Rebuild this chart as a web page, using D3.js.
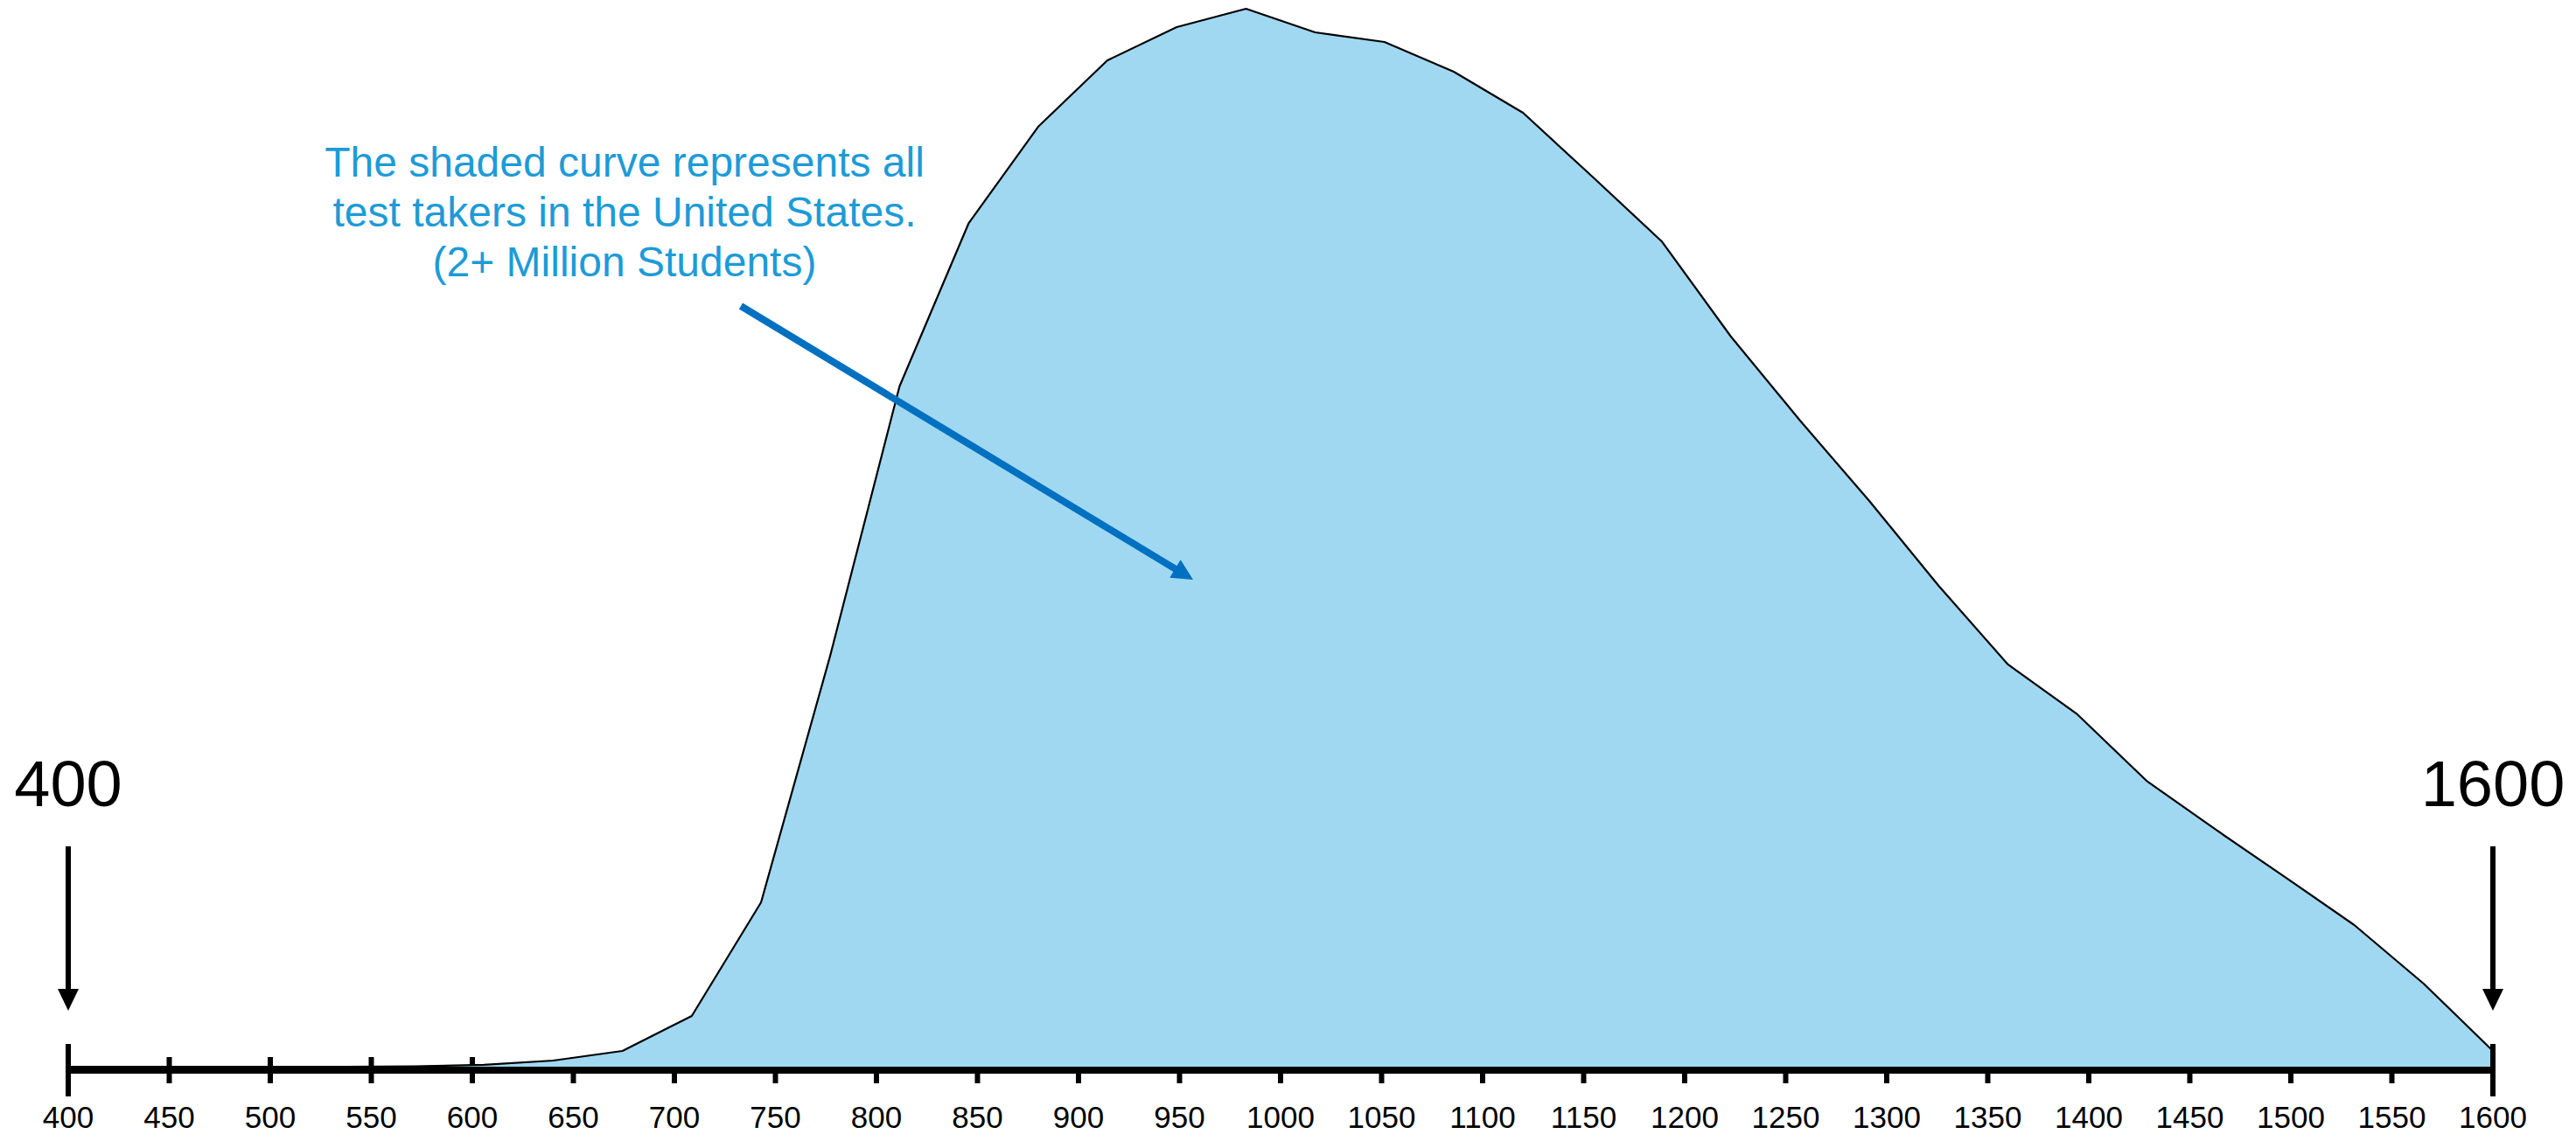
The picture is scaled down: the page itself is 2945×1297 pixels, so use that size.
<!DOCTYPE html>
<html>
<head>
<meta charset="utf-8">
<script src="https://cdn.jsdelivr.net/npm/d3@7"></script>
<style>
  html, body { margin: 0; padding: 0; background: #fff; }
  svg { display: block; }
  text { font-family: "Liberation Sans", Arial, Helvetica, sans-serif; }
</style>
</head>
<body>
<svg id="chart" width="2945" height="1297"></svg>
<script>
// ---- data ----
const scores = [400, 434.3, 468.6, 502.9, 537.1, 571.4, 605.7, 640, 674.3, 708.6,
  742.9, 777.1, 811.4, 845.7, 880, 914.3, 948.6, 982.9, 1017.1, 1051.4,
  1085.7, 1120, 1154.3, 1188.6, 1222.9, 1257.1, 1291.4, 1325.7, 1360, 1394.3,
  1428.6, 1462.9, 1497.1, 1531.4, 1565.7, 1600];
// relative number of test takers (peak = 100)
const takers = [0, 0, 0, 0, 0, 0.04, 0.17, 0.58, 1.49, 4.79,
  15.54, 38.84, 64.30, 79.75, 88.84, 95.12, 98.26, 100, 97.77, 96.86,
  94.05, 90.17, 84.13, 78.02, 69.01, 61.07, 53.47, 45.45, 38.02, 33.31,
  27.02, 22.40, 17.93, 13.39, 7.85, 1.49];
const tickValues = [400, 450, 500, 550, 600, 650, 700, 750, 800, 850, 900, 950, 1000,
  1050, 1100, 1150, 1200, 1250, 1300, 1350, 1400, 1450, 1500, 1550, 1600];
const endLabels = ["400", "1600"];
const endValues = [400, 1600];
const noteLines = ["The shaded curve represents all", "test takers in the United States.", "(2+ Million Students)"];

// ---- layout ----
const svg = d3.select("#chart");
const axisY = 1224;
const baseY = 1220;
const x = d3.scaleLinear().domain([400, 1600]).range([78, 2850]);
const y = d3.scaleLinear().domain([0, 100]).range([baseY, 10]);

// tick marks (drawn under the area)
svg.append("g").selectAll("line").data(tickValues).join("line")
  .attr("x1", d => x(d)).attr("x2", d => x(d))
  .attr("y1", d => (d === 400 || d === 1600) ? 1194 : 1209)
  .attr("y2", d => (d === 400 || d === 1600) ? 1254 : 1239)
  .attr("stroke", "#000").attr("stroke-width", 6);

const pts = scores.map((s, i) => ({ s, v: takers[i] }));

// shaded area
svg.append("path").datum(pts)
  .attr("d", d3.area().x(d => x(d.s)).y0(baseY).y1(d => y(d.v)))
  .attr("fill", "#a0d8f1");

// outline
svg.append("path").datum(pts)
  .attr("d", d3.line().x(d => x(d.s)).y(d => y(d.v)))
  .attr("fill", "none").attr("stroke", "#000").attr("stroke-width", 2.2)
  .attr("stroke-linejoin", "round");

// axis line
svg.append("line")
  .attr("x1", x(400) - 3).attr("x2", x(1600) + 3)
  .attr("y1", axisY).attr("y2", axisY)
  .attr("stroke", "#000").attr("stroke-width", 8);

// redraw end ticks on top
svg.append("g").selectAll("line").data(endValues).join("line")
  .attr("x1", d => x(d)).attr("x2", d => x(d))
  .attr("y1", 1194).attr("y2", 1254)
  .attr("stroke", "#000").attr("stroke-width", 6);

// tick labels
svg.append("g").selectAll("text").data(tickValues).join("text")
  .attr("x", d => x(d)).attr("y", 1290)
  .attr("text-anchor", "middle")
  .attr("font-size", 35).attr("fill", "#000")
  .text(d => d);

// end labels and arrows
svg.append("g").selectAll("text").data(endValues).join("text")
  .attr("x", d => x(d)).attr("y", 922)
  .attr("text-anchor", "middle")
  .attr("font-size", 74).attr("fill", "#000")
  .text((d, i) => endLabels[i]);

const arrows = svg.append("g").selectAll("g").data(endValues).join("g");
arrows.append("line")
  .attr("x1", d => x(d)).attr("x2", d => x(d))
  .attr("y1", 968).attr("y2", 1134)
  .attr("stroke", "#000").attr("stroke-width", 6);
arrows.append("path")
  .attr("d", d => `M${x(d) - 12},1131 L${x(d) + 12},1131 L${x(d)},1156 Z`)
  .attr("fill", "#000");

// annotation text
svg.append("g").selectAll("text").data(noteLines).join("text")
  .attr("x", 714).attr("y", (d, i) => 202 + i * 57)
  .attr("text-anchor", "middle")
  .attr("font-size", 48).attr("fill", "#1d9bd7")
  .text(d => d);

// annotation arrow
const ax0 = 847, ay0 = 350, ax1 = 1364, ay1 = 663;
const ang = Math.atan2(ay1 - ay0, ax1 - ax0);
const headLen = 24, headHalf = 12;
const bx = ax1 - headLen * Math.cos(ang), by = ay1 - headLen * Math.sin(ang);
svg.append("line")
  .attr("x1", ax0).attr("y1", ay0).attr("x2", bx + 2 * Math.cos(ang)).attr("y2", by + 2 * Math.sin(ang))
  .attr("stroke", "#0070c0").attr("stroke-width", 8);
svg.append("path")
  .attr("d", `M${bx - headHalf * Math.sin(ang)},${by + headHalf * Math.cos(ang)} L${bx + headHalf * Math.sin(ang)},${by - headHalf * Math.cos(ang)} L${ax1},${ay1} Z`)
  .attr("fill", "#0070c0");
</script>
</body>
</html>
